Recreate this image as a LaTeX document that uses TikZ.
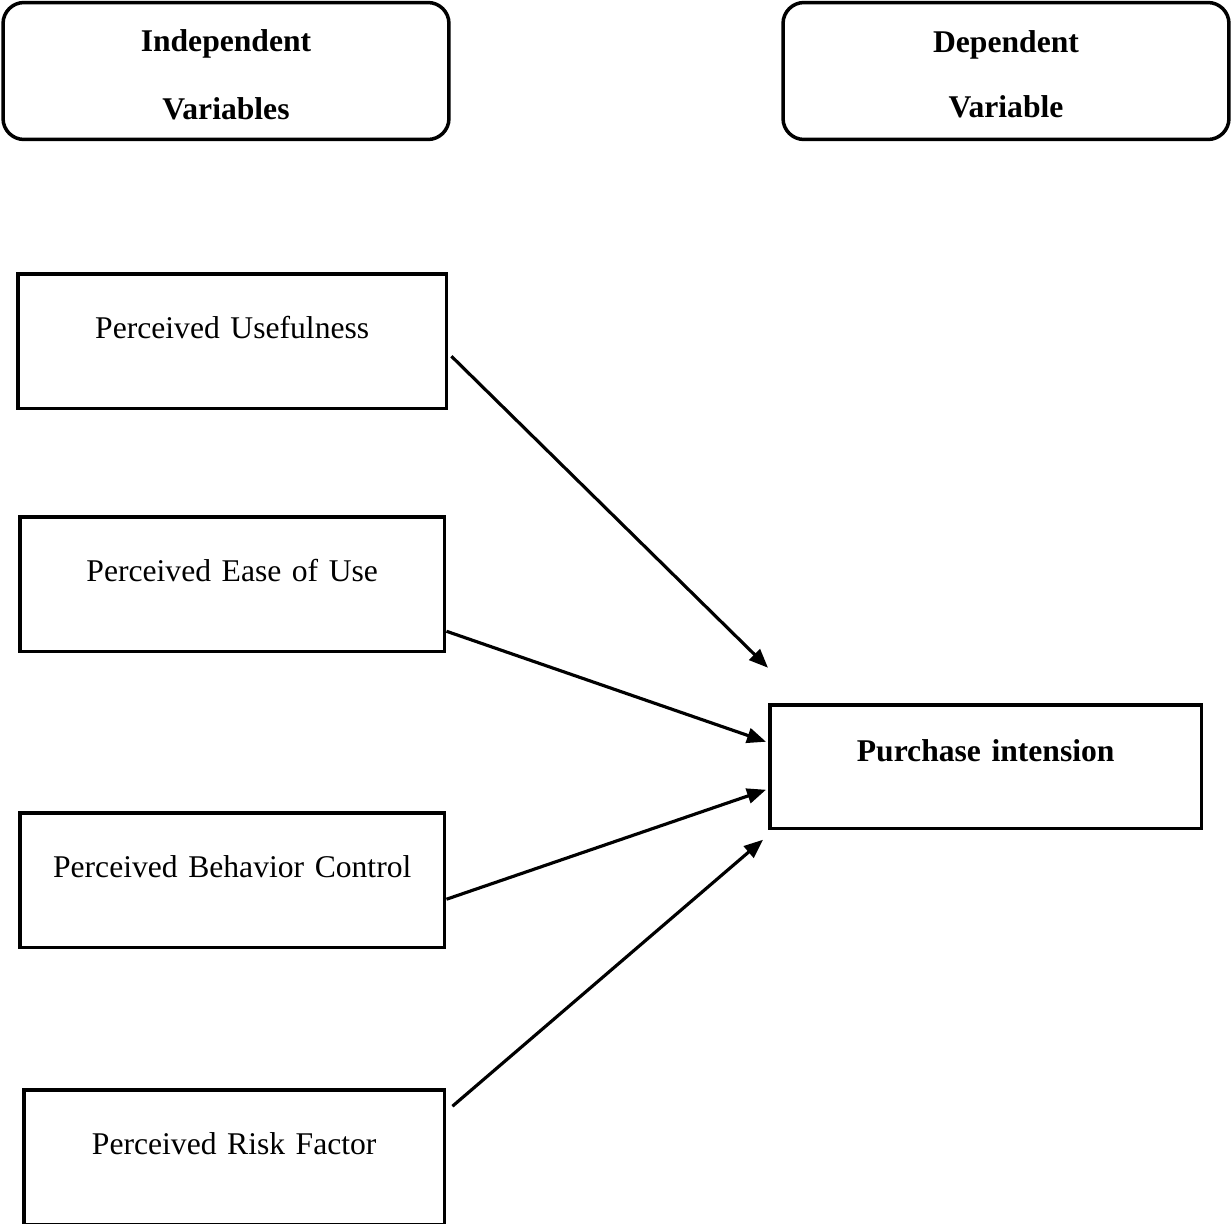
\documentclass[tikz,border=0pt]{standalone}
\usepackage{fontspec}
\setmainfont{Liberation Serif}
\usetikzlibrary{arrows.meta}
\begin{document}
\begin{tikzpicture}[x=0.02cm,y=-0.02cm,
    header/.style={draw,line width=2pt,rounded corners=0.42cm,align=center,
        minimum width=8.92cm,minimum height=2.74cm,inner sep=0pt},
    varbox/.style={draw,line width=2pt,anchor=north west,align=center,
        inner sep=0pt,text height=1.3cm,text depth=1.4cm,font=\fontsize{18}{22}\selectfont},
    link/.style={line width=1.8pt,-{Triangle[length=0.38cm,width=0.3cm]}}]
            \useasboundingbox (0,0) rectangle (1232,1224);
            \node[header,font=\bfseries\fontsize{18}{38.5}\selectfont] (iv) at (226,71) {\rule{0pt}{0.6cm}Independent\\Variables};
            \node[header,font=\bfseries\fontsize{18}{37}\selectfont] (dv) at (1006,71) {\rule{0pt}{0.56cm}Dependent\\Variable};
            \node[varbox,text width=8.58cm] (pu) at (16,272) {Perceived Usefulness};
            \node[varbox,text width=8.5cm] (pe) at (18,515) {Perceived Ease of Use};
            \node[varbox,text width=8.5cm] (pb) at (18,811) {Perceived Behavior Control};
            \node[varbox,text width=8.42cm] (pr) at (22,1088) {Perceived Risk Factor};
            \node[varbox,text width=8.64cm,text height=1.14cm,text depth=1.34cm,
                font=\bfseries\fontsize{18}{22}\selectfont] (pi) at (768,703) {Purchase intension};
            \draw[link] ([shift={(3,15)}]pu.east) -- ([shift={(0,-99)}]pi.west);
            \draw[link] ([shift={(0,47)}]pe.east) -- ([shift={(-2,-25)}]pi.west);
            \draw[link] ([shift={(0,19)}]pb.east) -- ([shift={(-2,23)}]pi.west);
            \draw[link] ([shift={(6,-51)}]pr.east) -- ([shift={(-5,73)}]pi.west);
        \end{tikzpicture}
\end{document}
